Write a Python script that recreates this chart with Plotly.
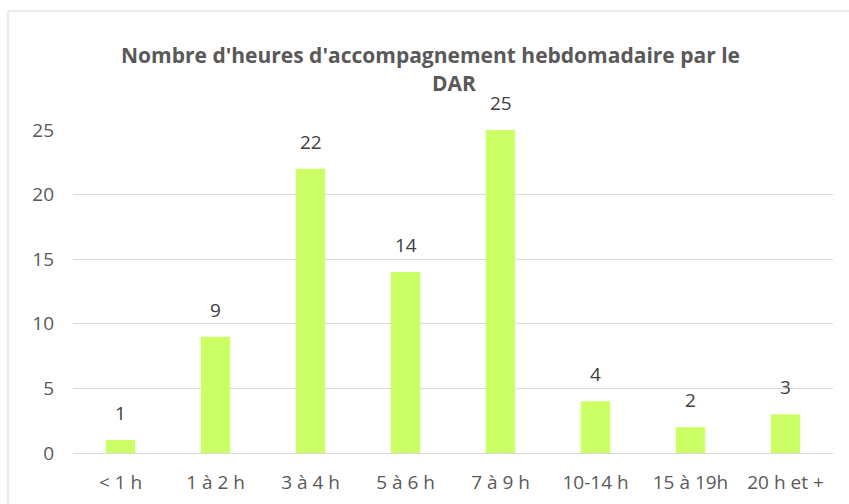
import plotly.graph_objects as go

categories = ["< 1 h", "1 à 2 h", "3 à 4 h", "5 à 6 h", "7 à 9 h", "10-14 h", "15 à 19h", "20 h et +"]
values = [1, 9, 22, 14, 25, 4, 2, 3]
y_ticks = [0, 5, 10, 15, 20, 25]

W, H = 849, 504
L, R, T, B = 73, 16, 130, 51
pw, ph = W - L - R, H - T - B

def px(x):
    return (x - L) / pw

def py(y):
    return (H - B - y) / ph

fig = go.Figure()
fig.add_trace(go.Bar(
    x=categories, y=values,
    marker=dict(color="#CCFF66", line=dict(width=0)),
    cliponaxis=False,
))

annotations = [
    dict(text="<b>Nombre d'heures d'accompagnement hebdomadaire par le</b>", xref="paper", yref="paper",
         x=px(430), y=py(55), showarrow=False, xanchor="center", yanchor="middle",
         font=dict(family="Open Sans", size=21, color="#595959")),
    dict(text="<b>DAR</b>", xref="paper", yref="paper",
         x=px(454), y=py(83), showarrow=False, xanchor="center", yanchor="middle",
         font=dict(family="Open Sans", size=21, color="#595959")),
]
for c, v in zip(categories, values):
    annotations.append(dict(text=str(v), x=c, y=v, xref="x", yref="y", showarrow=False,
                            xanchor="center", yanchor="middle", yshift=27,
                            font=dict(family="Open Sans", size=19, color="#404040")))

fig.update_layout(
    width=W, height=H,
    margin=dict(l=L, r=R, t=T, b=B, autoexpand=False),
    paper_bgcolor="white", plot_bgcolor="white",
    bargap=0.69,
    showlegend=False,
    font=dict(family="Open Sans", color="#595959"),
    xaxis=dict(showline=True, linecolor="#d9d9d9", linewidth=1, ticks="", automargin=False,
               tickfont=dict(size=19, color="#595959"), showgrid=False, ticklabelstandoff=12),
    yaxis=dict(range=[0, 25], tickvals=y_ticks, showgrid=True, gridcolor="#d9d9d9", automargin=False,
               gridwidth=1, zeroline=False, showline=False, ticks="",
               tickfont=dict(size=19, color="#595959"), ticklabelstandoff=18),
    shapes=[dict(type="rect", xref="paper", yref="paper",
                 x0=px(8), x1=px(860), y0=py(515), y1=py(11),
                 line=dict(color="#d9d9d9", width=1), fillcolor="rgba(0,0,0,0)", layer="below")],
    annotations=annotations,
)

fig.write_html("out.html", config={"displayModeBar": False},
               post_script="document.body.style.margin='0';document.body.style.overflow='hidden';")
